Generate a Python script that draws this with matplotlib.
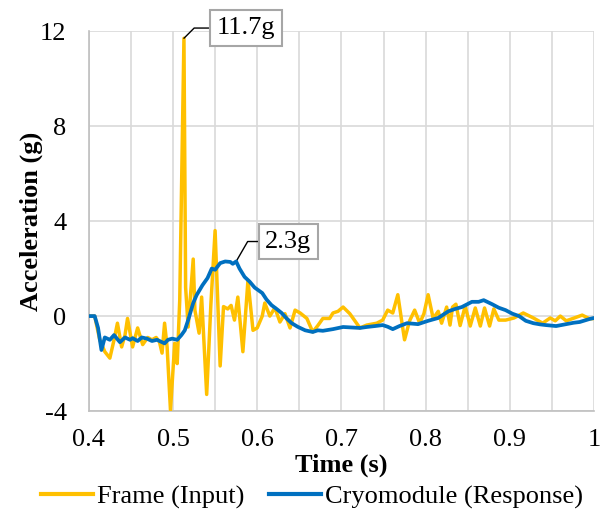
import numpy as np
import matplotlib
matplotlib.use("Agg")
import matplotlib.pyplot as plt

# Frame (input) acceleration
frame_t = [0.400, 0.407, 0.413, 0.419, 0.425, 0.430, 0.434, 0.439, 0.443, 0.446,
           0.452, 0.458, 0.464, 0.470, 0.475, 0.480, 0.484, 0.487, 0.490, 0.493,
           0.497, 0.502, 0.505, 0.508, 0.513, 0.515, 0.518, 0.524, 0.526, 0.531,
           0.534, 0.540, 0.545, 0.550, 0.556, 0.560, 0.565, 0.569, 0.573, 0.577,
           0.583, 0.589, 0.595, 0.600, 0.606, 0.609, 0.615, 0.621, 0.627, 0.633,
           0.639, 0.645, 0.651, 0.659, 0.666, 0.672, 0.678, 0.686, 0.690, 0.696,
           0.702, 0.710, 0.718, 0.722, 0.730, 0.742, 0.749, 0.755, 0.761, 0.767,
           0.772, 0.775, 0.781, 0.787, 0.793, 0.798, 0.803, 0.809, 0.815, 0.819,
           0.825, 0.829, 0.832, 0.836, 0.841, 0.847, 0.853, 0.859, 0.865, 0.870,
           0.876, 0.881, 0.887, 0.895, 0.905, 0.916, 0.928, 0.939, 0.948, 0.954,
           0.960, 0.967, 0.975, 0.986, 0.995, 1.000]
frame_g = [0.0, 0.0, -1.0, -1.5, -1.77, -1.0, -0.3, -1.3, -0.8, -0.1,
           -1.3, -0.5, -1.2, -0.9, -1.0, -0.9, -1.1, -1.56, -0.3, -1.3,
           -3.96, -1.15, -2.0, 0.67, 11.7, 1.2, -0.46, 2.4, 0.25, -0.72,
           0.8, -3.3, 0.5, 3.6, -2.1, 0.4, 0.3, 0.45, -0.17, 0.8,
           -1.5, 1.5, -0.6, -0.5, 0.0, 0.55, 0.0, 0.35, -0.25, 0.1,
           -0.5, 0.25, 0.13, -0.1, -0.67, -0.4, -0.1, -0.1, 0.13, 0.2,
           0.38, 0.1, -0.3, -0.5, -0.38, -0.3, -0.17, 0.25, 0.13, 0.9,
           -0.3, -1.0, -0.2, 0.25, -0.3, 0.1, 0.9, -0.1, 0.2, -0.3,
           0.38, -0.38, 0.38, 0.5, -0.4, 0.42, -0.42, 0.34, -0.42, 0.34,
           -0.42, 0.3, -0.17, -0.17, -0.08, 0.13, -0.08, -0.3, -0.08, -0.2,
           0.0, -0.2, -0.1, 0.04, -0.12, -0.1]

# Cryomodule (response) acceleration
cryo_t = [0.400, 0.407, 0.411, 0.415, 0.419, 0.425, 0.430, 0.433, 0.437, 0.443,
          0.449, 0.452, 0.458, 0.463, 0.469, 0.475, 0.481, 0.487, 0.490, 0.494,
          0.499, 0.505, 0.510, 0.514, 0.518, 0.524, 0.528, 0.535, 0.541, 0.546,
          0.550, 0.556, 0.562, 0.568, 0.571, 0.575, 0.579, 0.585, 0.591, 0.597,
          0.606, 0.611, 0.617, 0.623, 0.629, 0.635, 0.641, 0.648, 0.657, 0.666,
          0.672, 0.678, 0.690, 0.702, 0.712, 0.722, 0.730, 0.740, 0.749, 0.755,
          0.761, 0.769, 0.778, 0.791, 0.803, 0.815, 0.827, 0.835, 0.843, 0.855,
          0.863, 0.869, 0.879, 0.887, 0.895, 0.903, 0.911, 0.919, 0.928, 0.936,
          0.943, 0.955, 0.967, 0.976, 0.983, 0.995, 1.000]
cryo_g = [0.0, 0.0, -0.5, -1.43, -0.9, -1.0, -0.8, -0.93, -1.1, -0.9,
          -1.0, -0.93, -1.05, -0.9, -0.95, -1.05, -1.0, -1.1, -1.15, -1.0,
          -0.95, -1.0, -0.8, -0.6, -0.17, 0.55, 0.88, 1.3, 1.6, 2.0,
          1.95, 2.23, 2.3, 2.28, 2.2, 2.3, 2.0, 1.65, 1.45, 1.2,
          0.97, 0.7, 0.46, 0.3, 0.13, -0.1, -0.3, -0.45, -0.6, -0.67,
          -0.6, -0.62, -0.55, -0.46, -0.48, -0.5, -0.46, -0.42, -0.38, -0.45,
          -0.55, -0.42, -0.3, -0.34, -0.2, -0.08, 0.2, 0.3, 0.38, 0.6,
          0.6, 0.67, 0.5, 0.35, 0.25, 0.1, 0.0, -0.2, -0.3, -0.35,
          -0.38, -0.42, -0.34, -0.28, -0.25, -0.12, -0.08]

x_ticks = [0.4, 0.5, 0.6, 0.7, 0.8, 0.9, 1.0]
x_tick_labels = ["0.4", "0.5", "0.6", "0.7", "0.8", "0.9", "1"]
y_ticks = [-4, 0, 4, 8, 12]

plt.rcParams["font.family"] = ["Liberation Serif", "DejaVu Serif"]
plt.rcParams["font.size"] = 19
plt.rcParams["axes.unicode_minus"] = False

fig = plt.figure(figsize=(6.0, 5.19), dpi=100)
ax = fig.add_axes([0.148, 0.208, 0.842, 0.732])

ax.plot(frame_t, frame_g, color="#FFC000", lw=2.5, label="Frame (Input)", zorder=3,
        solid_joinstyle="round")
ax.plot(cryo_t, cryo_g, color="#0070C0", lw=2.7, label="Cryomodule (Response)", zorder=4,
        solid_joinstyle="round")

ax.set_xlim(0.4, 1.0)
ax.set_ylim(-4, 12)
ax.set_xticks(x_ticks)
ax.set_xticklabels(x_tick_labels)
ax.set_xticks(np.arange(0.45, 1.0, 0.1), minor=True)
ax.set_yticks(y_ticks)
ax.grid(True, which="both", axis="x", color="#D9D9D9", lw=1.2, zorder=0)
ax.grid(True, which="major", axis="y", color="#D9D9D9", lw=1.2, zorder=0)
ax.tick_params(which="both", length=0)
ax.tick_params(axis="x", pad=13)
ax.tick_params(axis="y", pad=16)
for side in ["top", "right"]:
    ax.spines[side].set_visible(False)
for side in ["left", "bottom"]:
    ax.spines[side].set_color("#BFBFBF")
    ax.spines[side].set_linewidth(1.2)

ax.set_xlabel("Time (s)", fontweight="bold", labelpad=2)
ax.set_ylabel("Acceleration (g)", fontweight="bold", labelpad=-2)

# peak callouts
box = dict(boxstyle="square,pad=0.25", fc="white", ec="#A6A6A6", lw=1.5)
i = int(np.argmax(frame_g))
ax.annotate(f"{frame_g[i]:.1f}g", xy=(frame_t[i], frame_g[i]), xytext=(0.5865, 12.13),
            ha="center", va="center", bbox=box, annotation_clip=False,
            arrowprops=dict(arrowstyle="-", color="black", lw=1,
                            connectionstyle="angle,angleA=0,angleB=45",
                            shrinkA=0, shrinkB=0))
j = int(np.argmax(cryo_g))
ax.annotate(f"{cryo_g[j]:.1f}g", xy=(cryo_t[j + 3], cryo_g[j + 3]), xytext=(0.637, 3.14),
            ha="center", va="center", bbox=box,
            arrowprops=dict(arrowstyle="-", color="black", lw=1,
                            connectionstyle="angle,angleA=0,angleB=60",
                            shrinkA=0, shrinkB=0))

leg = fig.legend(loc="center", bbox_to_anchor=(0.52, 0.042), ncol=2, frameon=False,
                 handlelength=2.0, handletextpad=0.15, columnspacing=0.9,
                 borderaxespad=0)
for line in leg.get_lines():
    line.set_linewidth(3)

fig.savefig("out.png", dpi=100)
